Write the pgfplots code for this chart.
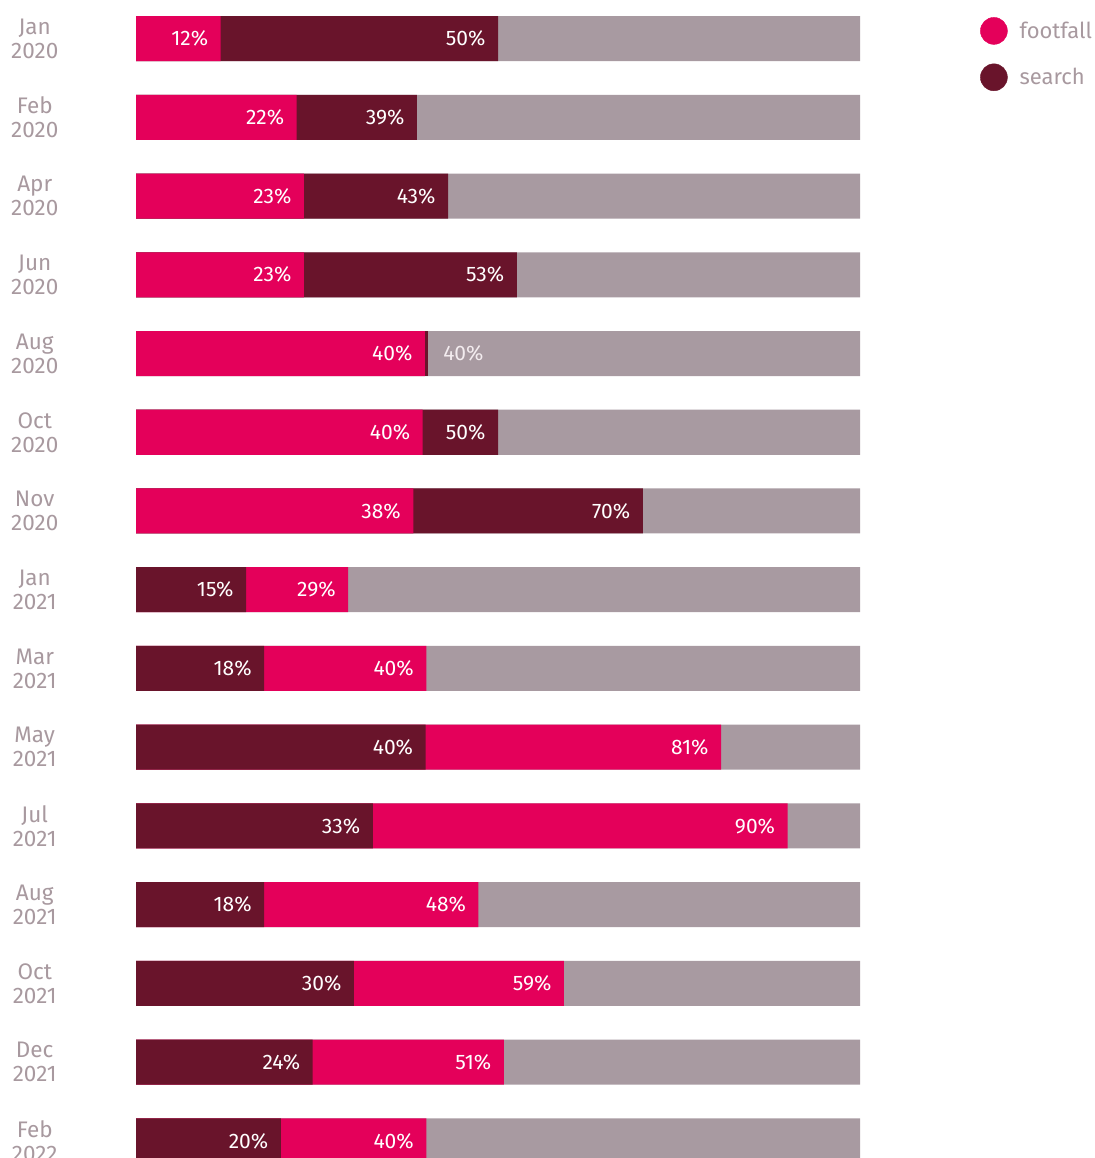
\documentclass[border=0pt]{standalone}
\usepackage{pgfplots}
\pgfplotsset{compat=1.18}
\usepackage{fontspec}
\setmainfont{Fira Sans}
\definecolor{cFoot}{HTML}{E4005A}
\definecolor{cSearch}{HTML}{69142B}
\definecolor{cGrey}{HTML}{A89AA1}
\definecolor{cText}{HTML}{A8999F}
\definecolor{cLight}{HTML}{F3ECEF}
\pgfplotsset{lab/.style={point meta=explicit,
  nodes near coords={\pgfmathprintnumber[fixed,precision=0]{\pgfplotspointmeta}\%},
  every node near coord/.append style={anchor=east, xshift=-9pt, text=white, font=\fontsize{21}{24}\selectfont}}}
\begin{document}
\begin{tikzpicture}
\useasboundingbox (0,0) rectangle (1094pt,1158pt);
\begin{axis}[
  at={(136pt,0pt)}, anchor=south west,
  scale only axis, width=724pt, height=1158pt,
  xmin=0, xmax=100, ymin=-0.216, ymax=14.489,
  clip=false,
  axis line style={draw=none}, tick style={draw=none},
  xtick=\empty,
  ytick={0,...,14},
  yticklabels={{Feb\\2022},{Dec\\2021},{Oct\\2021},{Aug\\2021},{Jul\\2021},{May\\2021},{Mar\\2021},{Jan\\2021},{Nov\\2020},{Oct\\2020},{Aug\\2020},{Jun\\2020},{Apr\\2020},{Feb\\2020},{Jan\\2020}},
  yticklabel style={align=center, anchor=center, xshift=-97pt, yshift=0pt, text=cText, font=\fontsize{22.5}{24}\selectfont},
  xbar, bar width=45pt, bar shift=0pt,
  /pgf/number format/assume math mode=true,
  legend style={at={(1,1)}, anchor=north west, xshift=117pt, yshift=-15pt, draw=none, fill=none,
    font=\fontsize{22}{26}\selectfont, text=cText, row sep=19pt, legend cell align=left},
]
% grey background
\addplot[fill=cGrey, draw=none, forget plot] table[x=x,y=y] {
x y
100 0
100 1
100 2
100 3
100 4
100 5
100 6
100 7
100 8
100 9
100 10
100 11
100 12
100 13
100 14
};
% search larger (drawn first), 2020 rows
\addplot[fill=cSearch, draw=none, forget plot, lab] table[x=x,y=y,meta=m] {
x y m
50.0 14 50
38.8 13 39
43.1 12 43
52.6 11 53
50.0 9 50
70.0 8 70
};
% Aug 2020 search (label outside)
\addplot[fill=cSearch, draw=none, forget plot, lab,
  every node near coord/.append style={anchor=west, xshift=21pt, text=cLight}] table[x=x,y=y,meta=m] {
x y m
40.3 10 40
};
% footfall larger (drawn first), 2021+ rows
\addplot[fill=cFoot, draw=none, forget plot, lab] table[x=x,y=y,meta=m] {
x y m
29.3 7 29
40.1 6 40
80.8 5 81
90.0 4 90
47.3 3 48
59.1 2 59
50.8 1 51
40.1 0 40
};
% footfall smaller (on top)
\addplot[fill=cFoot, draw=none, forget plot, lab] table[x=x,y=y,meta=m] {
x y m
11.7 14 12
22.2 13 22
23.2 12 23
23.2 11 23
39.9 10 40
39.6 9 40
38.3 8 38
};
% search smaller (on top)
\addplot[fill=cSearch, draw=none, forget plot, lab] table[x=x,y=y,meta=m] {
x y m
15.2 7 15
17.7 6 18
40.0 5 40
32.7 4 33
17.7 3 18
30.1 2 30
24.4 1 24
20.0 0 20
};
\addlegendimage{legend image code/.code={\fill[cFoot] (0pt,0pt) circle (13.5pt); \path (23.5pt,0pt);}}
\addlegendentry{footfall}
\addlegendimage{legend image code/.code={\fill[cSearch] (0pt,0pt) circle (13.5pt); \path (23.5pt,0pt);}}
\addlegendentry{search}
\end{axis}
\end{tikzpicture}
\end{document}
